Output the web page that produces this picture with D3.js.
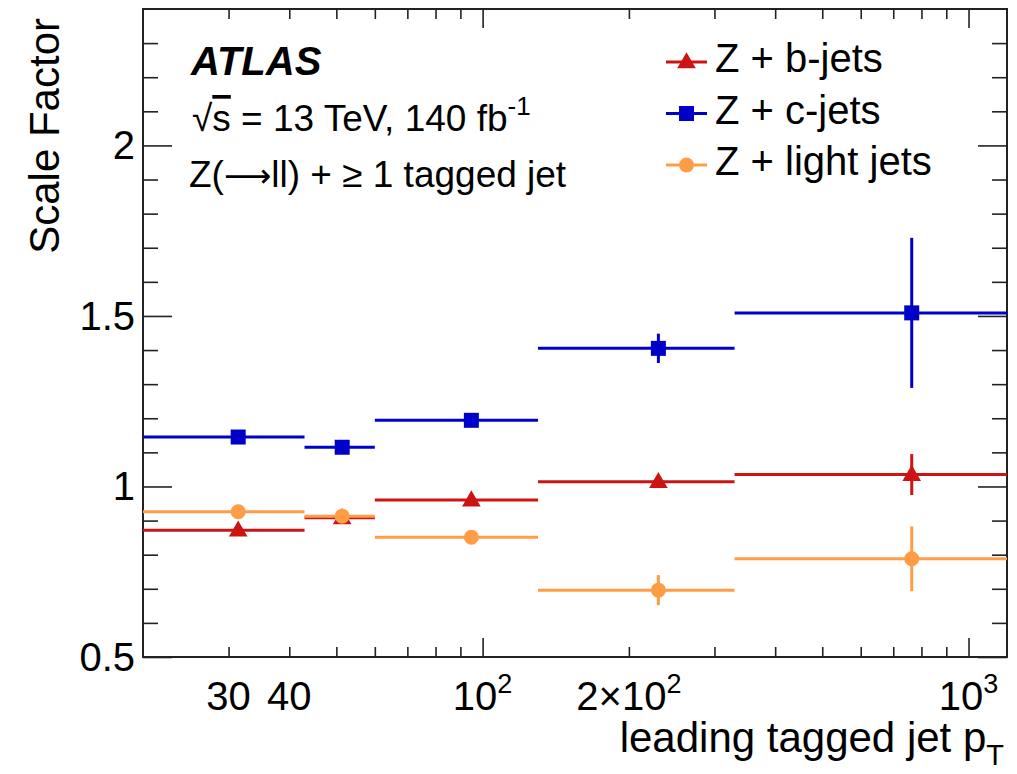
<!DOCTYPE html>
<html><head><meta charset="utf-8">
<script src="https://cdn.jsdelivr.net/npm/d3@7"></script>
<style>body{margin:0;background:#fff}svg{display:block;font-family:"Liberation Sans",Arial,sans-serif}</style>
</head><body><svg id="c" width="1017" height="774"></svg>
<script>
// ---- data ----
const binEdges = [20, 43, 60, 130, 330, 1200];
const binCenters = [31.4, 51.4, 94.8, 230, 764];
const bValues = [0.872, 0.908, 0.960, 1.014, 1.035];
const bErrors = [0.012, 0.012, 0.012, 0.015, 0.06];
const cValues = [1.145, 1.115, 1.194, 1.405, 1.509];
const cErrors = [0.012, 0.012, 0.012, 0.043, 0.22];
const lValues = [0.926, 0.913, 0.851, 0.696, 0.788];
const lErrors = [0.01, 0.01, 0.01, 0.044, 0.095];
const xTickLabels = [{v:30,t:"30"},{v:40,t:"40"},{v:100,t:"10",s:"2"},{v:200,t:"2×10",s:"2"},{v:1000,t:"10",s:"3"}];
const yTickLabels = [0.5, 1, 1.5, 2];
const seriesNames = ["Z + b-jets", "Z + c-jets", "Z + light jets"];

const svg = d3.select("#c");
const L = 143, R = 1007, T = 9, B = 657;
const x = d3.scaleLog().domain([20, 1200]).range([L, R]);
const y = d3.scaleLinear().domain([0.5, 2.4]).range([B, T]);

// minor / major ticks
const xMinor = [30,40,50,60,70,80,90,200,300,400,500,600,700,800,900];
const xMajor = [100,1000];
const yMinor = d3.range(0.6, 2.4, 0.1).filter(v => Math.abs(v*2 - Math.round(v*2)) > 1e-6);
const yMajor = [0.5,1,1.5,2];

function axisTicks(axisFn, scale, vals, size, tr) {
  const g = svg.append("g").attr("transform", tr).call(axisFn(scale).tickValues(vals).tickSize(size).tickFormat(""));
  g.select(".domain").remove();
  g.selectAll("line").attr("stroke","#222").attr("stroke-width",1.6);
}
axisTicks(d3.axisTop, x, xMinor, 10, `translate(0,${B})`);
axisTicks(d3.axisTop, x, xMajor, 19, `translate(0,${B})`);
axisTicks(d3.axisBottom, x, xMinor, 10, `translate(0,${T})`);
axisTicks(d3.axisBottom, x, xMajor, 19, `translate(0,${T})`);
axisTicks(d3.axisRight, y, yMinor, 15, `translate(${L},0)`);
axisTicks(d3.axisRight, y, yMajor, 29, `translate(${L},0)`);
axisTicks(d3.axisLeft, y, yMinor, 15, `translate(${R},0)`);
axisTicks(d3.axisLeft, y, yMajor, 29, `translate(${R},0)`);

svg.append("rect").attr("x",L).attr("y",T).attr("width",R-L).attr("height",B-T)
  .attr("fill","none").attr("stroke","#222").attr("stroke-width",2);

// tick labels
svg.selectAll(".yl").data(yTickLabels).enter().append("text")
  .attr("x", L-8).attr("y", d => y(d)+14).attr("text-anchor","end")
  .attr("font-size",40).text(d => d);
xTickLabels.forEach(d => {
  const t = svg.append("text").attr("x", x(d.v)).attr("y", 710).attr("text-anchor","middle").attr("font-size",40);
  t.append("tspan").text(d.t);
  if (d.s) t.append("tspan").attr("dy",-17).attr("font-size",27).text(d.s);
});

// axis titles
svg.append("text").attr("transform","translate(59,18) rotate(-90)").attr("text-anchor","end")
  .attr("font-size",42).text("Scale Factor");
const xt = svg.append("text").attr("x",1004).attr("y",752).attr("text-anchor","end").attr("font-size",42);
xt.append("tspan").text("leading tagged jet p");
xt.append("tspan").attr("dy",13).attr("font-size",29).text("T");

// series
const series = [
  {name: seriesNames[0], vals: bValues, errs: bErrors, color: "#cc1414", marker: "tri"},
  {name: seriesNames[1], vals: cValues, errs: cErrors, color: "#0000c8", marker: "sq"},
  {name: seriesNames[2], vals: lValues, errs: lErrors, color: "#ff9d47", marker: "circ"}
];
function marker(g, type, cx, cy, color) {
  if (type === "tri") g.append("path").attr("d", d3.symbol(d3.symbolTriangle, 150)()).attr("transform",`translate(${cx},${cy+1})`).attr("fill",color);
  else if (type === "sq") g.append("rect").attr("x",cx-7.5).attr("y",cy-7.5).attr("width",15).attr("height",15).attr("fill",color);
  else g.append("circle").attr("cx",cx).attr("cy",cy).attr("r",7.5).attr("fill",color);
}
series.forEach(s => {
  const g = svg.append("g");
  s.vals.forEach((v,i) => {
    g.append("line").attr("x1", x(binEdges[i])).attr("x2", x(binEdges[i+1]))
      .attr("y1", y(v)).attr("y2", y(v)).attr("stroke", s.color).attr("stroke-width",3);
    g.append("line").attr("x1", x(binCenters[i])).attr("x2", x(binCenters[i]))
      .attr("y1", y(v - s.errs[i])).attr("y2", y(v + s.errs[i])).attr("stroke", s.color).attr("stroke-width",3);
    marker(g, s.marker, x(binCenters[i]), y(v), s.color);
  });
});

// annotations
svg.append("text").attr("x",191).attr("y",75).attr("font-size",40).attr("font-weight","bold").attr("font-style","italic").text("ATLAS");
const t2 = svg.append("text").attr("x",192).attr("y",131).attr("font-size",37);
t2.append("tspan").text("√");
t2.append("tspan").attr("text-decoration","overline").text("s");
t2.append("tspan").text(" = 13 TeV, 140 fb");
t2.append("tspan").attr("dy",-16).attr("font-size",26).text("-1");
const t3 = svg.append("text").attr("x",189).attr("y",187).attr("font-size",37);
t3.append("tspan").text("Z(");
t3.append("tspan").attr("font-family","DejaVu Sans").attr("font-size",33).text("⟶");
t3.append("tspan").text("ll) + ≥ 1 tagged jet");

// legend
series.forEach((s,i) => {
  const cy = 62 + i*51.5;
  svg.append("line").attr("x1",666).attr("x2",707).attr("y1",cy).attr("y2",cy).attr("stroke",s.color).attr("stroke-width",3);
  marker(svg, s.marker, 686.5, cy, s.color);
  svg.append("text").attr("x",715).attr("y",cy+10).attr("font-size",40).text(s.name);
});
</script></body></html>
